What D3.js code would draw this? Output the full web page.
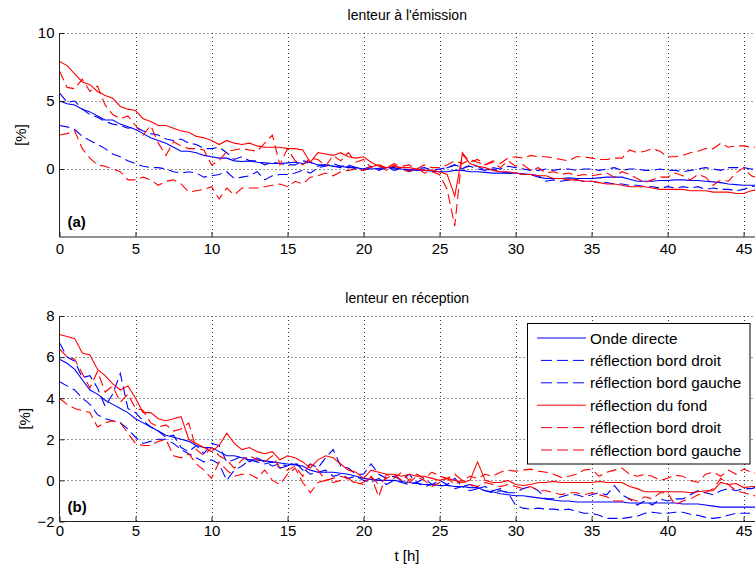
<!DOCTYPE html>
<html><head><meta charset="utf-8">
<script src="https://cdn.jsdelivr.net/npm/d3@7"></script>
<style>
body{margin:0;background:#fff}
svg{display:block}
text{font-family:"Liberation Sans",Arial,Helvetica,sans-serif;fill:#000}
</style>
</head><body><div id="chart"></div>
<script>
// ---------- data ----------
const hours = d3.range(0, 46.01, 0.5); // sampling times [h]
const xTicks = [0, 5, 10, 15, 20, 25, 30, 35, 40, 45];
const yTicksA = [0, 5, 10];
const yTicksB = [-2, 0, 2, 4, 6, 8];
const legendLabels = ["Onde directe", "réflection bord droit", "réflection bord gauche",
                      "réflection du fond", "réflection bord droit", "réflection bord gauche"];

// (a) lenteur à l'émission
const emDirect = [5.0,4.8,4.7,4.4,4.2,3.9,3.6,3.6,3.3,3.1, 2.9,2.6,2.3,2.1,1.9,1.6,1.3,1.3,1.2,1.0,
  0.9,0.8,0.8,0.6,0.55,0.6,0.5,0.45,0.4,0.4, 0.45,0.5,0.4,0.5,0.3,0.3,0.2,0.2,0.1,0.1,
  0.0,0.0,0.05,0.1,0.1,0.0,-0.05,-0.1,-0.1,-0.15, -0.2,-0.2,-0.1,-0.1,-0.2,-0.2,-0.25,-0.3,-0.3,-0.3,
  -0.3,-0.35,-0.4,-0.6,-0.7,-0.7,-0.7,-0.65,-0.7,-0.7, -0.7,-0.65,-0.6,-0.6,-0.6,-0.75,-0.9,-0.9,-0.9,-0.85,
  -0.85,-0.8,-0.8,-0.85,-0.85,-0.9,-0.95,-1.0,-1.1,-1.15, -1.2,-1.2,-1.2];
const emBlueDroit = [5.6,4.9,5.0,4.4,4.0,3.8,3.5,3.3,3.2,3.0, 3.1,2.8,2.6,2.5,2.2,2.1,2.2,1.9,1.8,1.5,
  1.5,1.6,1.2,0.7,0.9,0.6,0.6,0.3,0.5,0.4, 0.3,0.3,0.6,0.5,0.2,0.3,0.2,0.1,0.2,0.0,
  -0.1,0.1,0.0,0.2,-0.1,0.0,-0.2,0.0,-0.1,-0.2, -0.2,0.1,0.3,0.0,0.3,0.2,-0.1,0.0,-0.2,-0.3,
  -0.3,-0.4,-0.4,-0.5,-0.9,-0.8,-0.9,-0.8,-0.8,-0.9, -0.9,-1.0,-1.0,-1.1,-1.1,-1.2,-1.2,-1.3,-1.3,-1.4,
  -1.3,-1.4,-1.3,-1.4,-1.3,-1.5,-1.4,-1.5,-1.5,-1.6, -1.5,-1.3,-1.2];
const emBlueGauche = [3.2,3.1,2.9,2.4,2.1,1.8,1.5,1.1,0.9,0.6, 0.4,0.2,0.1,0.1,0.0,-0.2,-0.3,-0.2,-0.3,-0.6,
  -0.5,-0.4,-0.2,-0.7,-0.6,-0.5,-0.2,-0.8,-0.5,-0.4, -0.4,-0.3,-0.1,-0.3,0.1,0.2,0.4,0.2,0.3,0.1,
  0.0,0.2,-0.1,0.1,0.0,0.1,-0.1,0.0,0.1,-0.1, 0.0,0.1,0.3,0.1,0.2,0.0,-0.1,0.1,0.0,0.2,
  0.1,0.0,-0.1,-0.1,0.0,-0.1,0.0,0.0,-0.1,0.0, 0.0,-0.1,0.0,0.1,-0.1,0.0,0.0,-0.1,-0.1,0.0,
  -0.1,-0.1,-0.2,-0.1,0.0,0.1,0.0,-0.1,0.1,0.1, 0.1,0.0,-0.1];
const emFond = [7.9,7.6,7.0,6.4,6.2,5.7,5.4,5.2,4.6,4.4, 4.3,3.7,3.5,3.2,3.2,3.0,2.8,2.7,2.4,2.3,
  2.1,1.8,2.1,1.9,1.8,1.9,1.7,1.6,1.6,1.6, 1.5,1.5,1.4,0.5,1.2,1.1,1.0,1.2,0.9,0.8,
  0.9,0.5,0.2,0.1,0.2,0.1,0.1,0.0,-0.1,-0.1, -0.2,-0.4,-2.0,1.1,0.4,0.2,0.1,-0.1,-0.2,-0.2,
  -0.3,-0.4,-0.4,-0.5,-0.5,-0.7,-0.7,-0.8,-0.8,-0.9, -0.9,-1.0,-1.1,-1.1,-1.2,-1.3,-1.3,-1.3,-1.4,-1.5,
  -1.5,-1.5,-1.5,-1.6,-1.6,-1.6,-1.7,-1.7,-1.7,-1.8, -1.8,-1.6,-1.5];
const emRedDroit = [7.2,6.0,5.9,6.6,5.7,6.1,4.7,4.0,3.7,3.9, 3.2,2.5,3.2,1.9,1.0,2.0,1.7,1.5,1.5,1.4,
  0.3,0.6,1.3,1.4,1.5,1.4,1.3,1.9,2.5,0.3, 1.5,0.6,0.3,0.8,0.7,0.2,1.0,0.6,1.2,0.5,
  0.7,0.1,0.4,-0.1,0.3,0.0,-0.2,0.1,-0.3,-0.2, -0.4,-1.5,-4.2,1.2,0.5,0.7,0.3,0.5,0.1,0.6,
  0.2,0.3,-0.1,0.1,-0.3,-0.2,-0.4,-0.3,-0.5,-0.4, -0.5,-0.4,-0.3,-0.6,-0.2,-0.4,-0.7,-1.0,-0.8,-0.6,
  -0.6,-0.3,-0.5,-0.8,-0.4,-0.6,-1.2,-0.8,-0.9,-0.3, 0.1,-0.5,-0.7];
const emRedGauche = [2.5,2.6,2.8,1.5,0.8,0.3,0.2,0.0,-0.2,-0.8, -0.8,-0.6,-0.8,-1.2,-0.9,-0.8,-1.1,-1.7,-1.6,-1.5,
  -1.3,-2.2,-1.4,-1.9,-1.4,-1.4,-1.4,-1.3,-1.2,-1.1, -1.3,-0.9,-1.1,-0.6,-0.5,-0.3,-0.5,-0.2,-0.1,0.0,
  -0.1,0.2,0.3,0.1,0.4,0.2,0.3,0.0,0.3,0.1, 0.1,0.3,0.6,0.4,0.7,0.5,0.3,0.6,0.4,0.8,
  0.9,0.8,1.0,0.9,0.9,0.8,0.7,0.6,0.9,0.9, 0.8,0.7,0.7,0.8,0.8,1.4,1.2,1.3,1.5,1.3,
  0.9,0.9,1.0,1.2,1.3,1.5,1.5,1.9,1.6,1.7, 1.7,1.6,1.6];

// (b) lenteur en réception
const recDirect = [5.9,5.7,5.4,4.9,4.4,4.2,3.9,3.7,3.5,3.3, 3.0,2.8,2.6,2.4,2.2,2.1,2.0,1.9,1.7,1.6,
  1.6,1.4,1.2,1.2,1.1,1.0,1.0,0.95,0.9,0.85, 0.8,0.75,0.7,0.5,0.4,0.4,0.4,0.35,0.3,0.2,
  0.1,0.05,0.0,0.0,0.0,-0.05,-0.1,-0.15,-0.2,-0.2, -0.25,-0.25,-0.3,-0.3,-0.35,-0.35,-0.5,-0.55,-0.65,-0.7,
  -0.75,-0.75,-0.8,-0.85,-0.9,-0.95,-1.0,-1.0,-1.05,-1.05, -1.05,-1.05,-1.05,-1.05,-1.05,-1.1,-1.1,-1.1,-1.1,-1.1,
  -1.1,-1.1,-1.15,-1.15,-1.15,-1.2,-1.25,-1.3,-1.3,-1.3, -1.3,-1.3,-1.3];
const recBlueDroit = [6.7,6.0,5.8,5.0,5.1,4.5,3.6,4.2,5.2,3.5, 3.3,2.9,2.6,2.4,2.1,2.2,1.6,1.4,1.7,1.3,
  1.8,1.7,0.9,1.0,1.2,0.9,1.1,0.9,0.7,0.8, 0.7,0.9,0.5,0.8,0.6,1.1,1.5,0.7,0.6,0.3,
  0.3,0.8,0.3,0.1,0.2,0.0,0.3,-0.1,0.1,-0.2, 0.0,-0.2,0.1,-0.3,-0.2,-0.4,-0.3,-0.5,-0.4,-0.6,
  -0.6,-0.4,-0.3,-0.5,-0.9,-0.9,-0.8,-0.7,-0.7,-0.8, -0.7,-0.6,-0.7,-0.25,-0.7,-0.9,-1.2,-1.0,-1.2,-0.9,
  -1.0,-0.9,-0.9,-0.7,-0.5,-0.6,-0.7,-0.5,-0.4,-0.5, -0.4,-0.4,-0.3];
const recBlueGauche = [4.8,4.6,4.4,4.0,3.7,3.2,3.0,2.9,2.8,2.5, 2.1,1.8,1.9,2.0,2.0,1.8,1.5,1.3,1.1,0.9,
  1.0,0.8,0.0,0.5,0.7,1.0,0.9,0.8,0.9,0.6, 0.7,0.8,0.6,0.3,0.4,0.5,0.2,0.3,0.1,0.2,
  0.0,-0.1,0.1,-0.2,0.0,-0.1,-0.2,-0.1,-0.3,-0.2, -0.3,-0.2,-0.4,-0.3,-0.5,-0.4,-0.5,-0.6,-0.5,-0.6,
  -1.2,-1.35,-1.4,-1.35,-1.4,-1.4,-1.45,-1.4,-1.5,-1.6, -1.6,-1.7,-1.85,-1.85,-1.85,-1.8,-1.75,-1.6,-1.55,-1.6,
  -1.6,-1.55,-1.55,-1.65,-1.7,-1.8,-1.85,-1.8,-1.7,-1.6, -1.6,-1.6,-1.55];
const recFond = [7.1,7.0,6.9,6.2,6.1,5.4,5.1,4.7,4.4,4.6, 4.0,3.3,3.3,3.0,2.9,3.0,3.1,2.0,1.8,1.6,
  1.4,1.7,2.3,1.8,1.5,1.6,1.4,1.3,1.4,1.0, 1.2,1.1,0.9,0.6,1.0,1.2,1.1,0.8,0.5,0.4,
  0.1,0.5,0.4,0.3,0.3,0.2,0.3,0.2,0.2,0.1, 0.0,0.1,0.0,-0.1,0.0,0.9,0.0,-0.1,-0.1,0.0,
  -0.2,-0.25,-0.2,-0.1,-0.1,-0.05,-0.1,-0.1,-0.1,-0.1, -0.1,-0.05,-0.1,-0.1,-0.1,-0.3,-0.4,-0.55,-0.55,-0.55,
  -0.55,-0.55,-0.55,-0.6,-0.55,-0.5,-0.5,-0.1,-0.2,-0.15, -0.35,-0.3,-0.3];
const recRedDroit = [6.4,6.0,5.9,5.2,4.5,5.3,4.3,4.6,3.8,4.2, 3.5,3.4,2.8,2.6,2.7,2.4,2.5,2.8,1.5,1.2,
  1.6,1.2,1.0,0.6,1.0,1.2,1.0,0.9,1.2,0.6, 0.5,0.7,0.2,0.8,0.5,0.0,0.1,0.2,0.1,-0.1,
  -0.2,0.2,-0.8,0.3,0.1,0.4,0.0,0.3,0.1,0.4, 0.2,0.1,0.3,0.0,0.2,0.1,0.3,0.2,0.4,0.5,
  0.45,0.5,0.55,0.45,0.4,0.3,0.15,0.2,0.3,0.5, 0.55,0.2,0.4,0.5,0.6,0.3,0.2,0.3,0.2,0.0,
  0.1,0.25,0.2,0.0,-0.1,0.3,0.4,0.2,0.5,0.3, 0.55,0.4,0.3];
const recRedGauche = [4.0,3.7,3.5,3.4,3.3,2.6,2.8,2.9,2.8,2.3, 1.8,1.7,1.7,1.9,2.0,1.2,1.1,1.3,0.8,0.5,
  0.1,0.9,0.5,0.2,0.3,0.3,0.1,0.5,0.0,-0.2, 0.3,0.6,-0.1,-0.6,-0.1,0.0,-0.1,0.0,0.1,-0.2,
  -0.1,0.2,-0.2,0.1,0.3,0.0,-0.1,0.2,0.0,-0.3, -0.1,0.1,-0.2,0.0,-0.2,-0.3,-0.1,-0.2,-0.3,-0.2,
  -0.3,-0.4,-0.3,-0.5,-0.5,-0.6,-0.7,-0.6,-0.6,-0.7, -0.6,-0.7,-0.8,-1.0,-1.0,-0.9,-1.0,-0.8,-0.9,-0.6,
  -0.6,-1.2,-1.0,-0.9,-0.7,-0.6,-0.4,0.1,-0.2,-0.5, -0.6,-0.7,-0.8];

// ---------- style ----------
const lineColors = ["#0000ff","#0000ff","#0000ff","#ff0000","#ff0000","#ff0000"];
const lineDash = [null,"10,5","10,5",null,"10,5","10,5"];

const W = 755, H = 568;
const svg = d3.select("#chart").append("svg").attr("width", W).attr("height", H);

const x = d3.scaleLinear().domain([0, 45.75]).range([59.5, 755]);

const panels = [
  {title: "lenteur à l'émission", tag: "(a)", yDomain: [-5, 10], yTicks: yTicksA, top: 33, bottom: 237,
   series: [emDirect, emBlueDroit, emBlueGauche, emFond, emRedDroit, emRedGauche], ylabX: 21, tickPad: 6, legend: false},
  {title: "lenteur en réception", tag: "(b)", yDomain: [-2, 8], yTicks: yTicksB, top: 316, bottom: 521.5,
   series: [recDirect, recBlueDroit, recBlueGauche, recFond, recRedDroit, recRedGauche], ylabX: 25, tickPad: 4, legend: true}
];

panels.forEach((p, pi) => {
  const y = d3.scaleLinear().domain(p.yDomain).range([p.bottom, p.top]);
  const g = svg.append("g");
  const x0 = x.range()[0], x1 = x.range()[1];

  // grid
  const grid = g.append("g").attr("stroke", "#333").attr("stroke-width", 1).attr("stroke-dasharray", "1,3");
  grid.selectAll("line.v").data(xTicks.filter(d => d > 0)).join("line")
    .attr("x1", d => Math.round(x(d)) + 0.5).attr("x2", d => Math.round(x(d)) + 0.5)
    .attr("y1", p.top).attr("y2", p.bottom);
  grid.selectAll("line.h").data(p.yTicks.filter(d => d > p.yDomain[0])).join("line")
    .attr("y1", d => Math.round(y(d)) + 0.5).attr("y2", d => Math.round(y(d)) + 0.5)
    .attr("x1", x0).attr("x2", x1);

  // clip
  const cid = "clip" + pi;
  svg.append("clipPath").attr("id", cid).append("rect")
    .attr("x", x0).attr("y", p.top).attr("width", x1 - x0).attr("height", p.bottom - p.top);

  const lines = g.append("g").attr("clip-path", `url(#${cid})`);
  const lineGen = d3.line().x((d, i) => x(hours[i])).y(d => y(d));
  p.series.forEach((s, si) => {
    lines.append("path").attr("d", lineGen(s)).attr("fill", "none")
      .attr("stroke", lineColors[si]).attr("stroke-width", 1.1)
      .attr("stroke-dasharray", lineDash[si]);
  });

  // axes
  const xAxis = d3.axisBottom(x).tickValues(xTicks).tickSizeInner(-5).tickSizeOuter(0).tickPadding(p.tickPad);
  const gx = g.append("g").attr("transform", `translate(0,${p.bottom})`).call(xAxis);
  const yAxis = d3.axisLeft(y).tickValues(p.yTicks).tickSizeInner(-5).tickSizeOuter(0).tickPadding(5);
  const gy = g.append("g").attr("transform", `translate(${x0},0)`).call(yAxis);
  [gx, gy].forEach(a => {
    a.select(".domain").remove();
    a.selectAll(".tick line").attr("stroke", "#222");
    a.selectAll("text").attr("font-size", 15).attr("font-family", null);
  });
  g.append("line").attr("x1", x0).attr("x2", x0).attr("y1", p.top).attr("y2", p.bottom).attr("stroke", "#222");
  g.append("line").attr("x1", x0).attr("x2", x1).attr("y1", p.bottom).attr("y2", p.bottom).attr("stroke", "#222");

  // title, labels
  g.append("text").attr("x", (x0 + x1) / 2).attr("y", p.top - 13).attr("text-anchor", "middle")
    .attr("font-size", 14).text(p.title);
  g.append("text").attr("transform", `translate(${p.ylabX},${(p.top + p.bottom) / 2}) rotate(-90)`)
    .attr("text-anchor", "middle").attr("dy", "0.35em").attr("font-size", 15).text("[%]");
  g.append("text").attr("x", x0 + 8).attr("y", p.bottom - 10).attr("font-size", 15)
    .attr("font-weight", "bold").text(p.tag);

  if (p.legend) {
    const lg = svg.append("g");
    lg.append("rect").attr("x", 527.5).attr("y", 323.5).attr("width", 222.5).attr("height", 140.5)
      .attr("fill", "#fff").attr("stroke", "#000");
    legendLabels.forEach((lab, i) => {
      const ly = 338 + i * 22.4;
      lg.append("line").attr("x1", 537).attr("x2", 586).attr("y1", ly).attr("y2", ly)
        .attr("stroke", lineColors[i]).attr("stroke-dasharray", lineDash[i] ? "11,5" : null)
        .attr("stroke-dashoffset", lineDash[i] ? -4 : null);
      lg.append("text").attr("x", 590).attr("y", ly).attr("dy", "0.36em").attr("font-size", 15.3).text(lab);
    });
  }
});

svg.append("text").attr("x", 407).attr("y", 561).attr("text-anchor", "middle").attr("font-size", 15).text("t [h]");
</script>
</body></html>
